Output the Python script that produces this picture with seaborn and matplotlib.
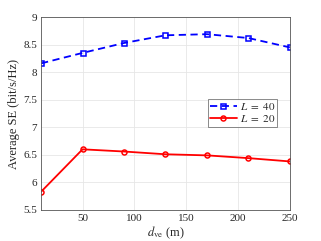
import matplotlib
matplotlib.use("Agg")
import matplotlib.pyplot as plt
import seaborn as sns
import pandas as pd

# datos
d_ve = [10, 50, 90, 130, 170, 210, 250]
se_L40 = [8.16, 8.35, 8.53, 8.67, 8.69, 8.62, 8.45]
se_L20 = [5.83, 6.60, 6.56, 6.51, 6.49, 6.44, 6.38]
etiquetas = ["$L\\ =\\ 40$", "$L\\ =\\ 20$"]

df = pd.DataFrame({
    "d": d_ve * 2,
    "se": se_L40 + se_L20,
    "serie": [etiquetas[0]] * len(d_ve) + [etiquetas[1]] * len(d_ve),
})

sns.set_style("whitegrid")
plt.rcParams["font.family"] = ["Liberation Serif", "DejaVu Serif"]
plt.rcParams["mathtext.fontset"] = "stix"

fig = plt.figure(figsize=(3.21, 2.41), dpi=100)
ax = fig.add_axes([0.128, 0.129, 0.775, 0.80])

colores = {etiquetas[0]: "blue", etiquetas[1]: "red"}
marcadores = {etiquetas[0]: "s", etiquetas[1]: "o"}
estilos = {etiquetas[0]: (0, (4, 2.5)), etiquetas[1]: "-"}
for s in etiquetas:
    sub = df[df["serie"] == s]
    sns.lineplot(data=sub, x="d", y="se", ax=ax, color=colores[s], marker=marcadores[s],
                 linestyle=estilos[s], linewidth=1.3, markersize=3.6,
                 markerfacecolor="none", markeredgecolor=colores[s], markeredgewidth=1.1,
                 label=s)

ax.set_xlim(10, 250)
ax.set_ylim(5.5, 9)
ax.set_xticks([50, 100, 150, 200, 250])
ax.set_yticks([5.5, 6, 6.5, 7, 7.5, 8, 8.5, 9])
ax.set_yticklabels(["5.5", "6", "6.5", "7", "7.5", "8", "8.5", "9"])
ax.tick_params(labelsize=8, length=0, pad=3)
ax.grid(True, color="#e6e6e6", linewidth=0.6)
for sp in ax.spines.values():
    sp.set_color("#555555")
    sp.set_linewidth(0.6)

ax.set_xlabel(r"$d_{\rm ve}$ (m)", fontsize=9, labelpad=1)
ax.set_ylabel("Average SE (bit/s/Hz)", fontsize=9, labelpad=2)

leg = ax.legend(loc="upper right", bbox_to_anchor=(0.95, 0.575), fontsize=8,
                frameon=True, fancybox=False, borderpad=0.2, labelspacing=0.1,
                handlelength=2.4, handletextpad=0.3, borderaxespad=0)
leg.get_frame().set_edgecolor("#555555")
leg.get_frame().set_linewidth(0.6)

fig.savefig("out.png", dpi=100)
